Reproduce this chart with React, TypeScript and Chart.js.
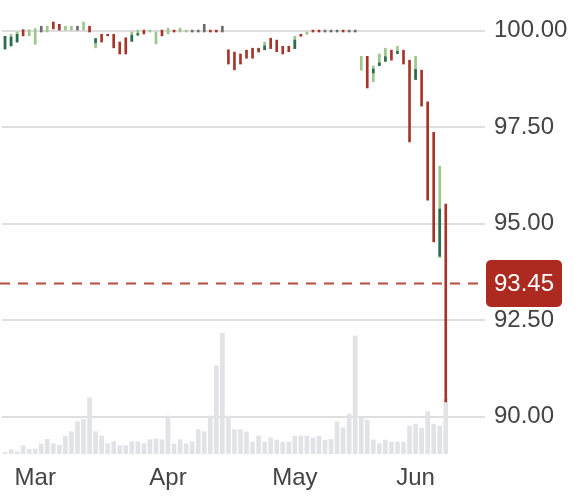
import React, { useEffect, useRef } from 'react';
import { Chart, registerables } from 'chart.js';

Chart.register(...registerables);

// ---- data ----
const SLOT_COUNT = 80; // trading-day slots on the x axis (74 filled)
const monthNames = ['Mar', 'Apr', 'May', 'Jun'];
const monthStartIndex = [5, 27, 48, 68];

const highs = [
  99.86, 99.91, 99.97, 100.03, 100.03, 100.06, 100.12, 100.12, 100.23, 100.17,
  100.12, 100.12, 100.12, 100.23, 100.12, 99.8, 99.91, 99.91, 99.91, 99.71,
  99.82, 99.97, 100.02, 100.02, 100.02, 99.97, 100.02, 100.07, 100.02, 100.07,
  100.02, 100.02, 100.02, 100.17, 100.02, 100.02, 100.12, 99.51, 99.45, 99.4,
  99.5, 99.55, 99.55, 99.71, 99.81, 99.76, 99.6, 99.6, 99.86, 99.91,
  99.97, 100.02, 100.02, 100.02, 100.02, 100.02, 100.02, 100.02, 100.02, 99.34,
  99.34, 99.09, 99.4, 99.55, 99.5, 99.6, 99.5, 99.24, 99.34, 98.98,
  98.16, 97.37, 96.49, 95.51,
];
const lows = [
  99.53, 99.61, 99.71, 99.87, 99.87, 99.65, 99.97, 99.97, 100.05, 100.02,
  100.02, 100.02, 100.02, 100.02, 99.97, 99.56, 99.71, 99.87, 99.56, 99.4,
  99.4, 99.73, 99.89, 99.92, 99.97, 99.66, 99.87, 99.92, 99.97, 99.97,
  99.97, 99.97, 99.97, 99.97, 99.97, 99.97, 99.97, 99.14, 98.99, 99.14,
  99.29, 99.29, 99.45, 99.51, 99.54, 99.46, 99.4, 99.46, 99.54, 99.86,
  99.91, 99.97, 99.97, 99.97, 99.97, 99.97, 99.97, 99.97, 99.97, 98.98,
  98.52, 98.68, 99.1, 99.21, 99.24, 99.41, 99.14, 97.12, 98.74, 98.05,
  95.61, 94.53, 94.12, 90.38,
];
// u = up, d = down, n = unchanged
const moves = [
  'u', 'u', 'u', 'd', 'u', 'u', 'n', 'u', 'd', 'd',
  'u', 'u', 'n', 'u', 'd', 'u', 'd', 'd', 'd', 'd',
  'd', 'u', 'u', 'd', 'u', 'u', 'd', 'u', 'd', 'u',
  'u', 'n', 'n', 'n', 'd', 'd', 'n', 'd', 'd', 'd',
  'd', 'd', 'd', 'u', 'd', 'd', 'd', 'd', 'u', 'd',
  'u', 'd', 'd', 'n', 'n', 'n', 'd', 'n', 'n', 'u',
  'd', 'u', 'u', 'u', 'd', 'u', 'd', 'd', 'u', 'd',
  'd', 'd', 'u', 'd',
];
const bodyIndex = [0, 1, 2, 15, 21, 22, 43, 48, 61, 62, 63, 65, 68, 72];
const bodyLow = [99.53, 99.61, 99.71, 99.69, 99.73, 99.89, 99.51, 99.54, 98.91, 99.1, 99.21, 99.41, 98.74, 94.16];
const bodyHigh = [99.86, 99.84, 99.91, 99.8, 99.89, 99.93, 99.61, 99.76, 99.01, 99.17, 99.33, 99.47, 99.0, 95.38];
const volumes = [
  17, 43, 23, 83, 47, 50, 100, 147, 103, 87,
  180, 223, 323, 347, 563, 223, 180, 103, 123, 83,
  83, 123, 123, 103, 143, 150, 143, 380, 100, 143,
  103, 123, 243, 223, 380, 883, 1207, 380, 243, 243,
  220, 120, 180, 120, 160, 140, 120, 120, 180, 180,
  180, 160, 180, 140, 147, 323, 263, 400, 1180, 360,
  340, 140, 103, 140, 120, 120, 120, 280, 300, 260,
  423, 300, 280, 553,
];
const yTicks = [90, 92.5, 95, 97.5, 100];
const lastPrice = 93.45;

// ---- styles ----
const RED = '#a5352a';
const LIGHT_GREEN = '#9cc68c';
const DARK_GREEN = '#2e6b50';
const GRAY = '#6c6c6c';
const FONT = '"Liberation Sans", Arial, sans-serif';

const priceMarker = {
  id: 'priceMarker',
  beforeDatasetsDraw(chart: any) {
    const { ctx, chartArea, scales } = chart;
    const y = scales.y.getPixelForValue(lastPrice);
    ctx.save();
    ctx.strokeStyle = '#bb4a40';
    ctx.lineWidth = 2;
    ctx.setLineDash([10, 8]);
    ctx.beginPath();
    ctx.moveTo(0, y);
    ctx.lineTo(chartArea.right, y);
    ctx.stroke();
    ctx.restore();
  },
  afterDraw(chart: any) {
    const { ctx, chartArea, scales } = chart;
    const y = scales.y.getPixelForValue(lastPrice);
    const x = chartArea.right + 1;
    const w = 76;
    const h = 47;
    ctx.save();
    ctx.fillStyle = '#ad2a20';
    ctx.beginPath();
    (ctx as any).roundRect(x, y - h / 2, w, h, 5);
    ctx.fill();
    ctx.fillStyle = '#ffffff';
    ctx.font = `24px ${FONT}`;
    ctx.textAlign = 'left';
    ctx.textBaseline = 'middle';
    ctx.fillText(lastPrice.toFixed(2), chartArea.right + 9, y + 1);
    ctx.restore();
  },
};

export default function App() {
  const ref = useRef<HTMLCanvasElement | null>(null);

  useEffect(() => {
    if (!ref.current) return;
    const labels = Array.from({ length: SLOT_COUNT }, () => '');
    monthStartIndex.forEach((idx, k) => {
      labels[idx] = monthNames[k];
    });
    const rangeData = highs.map((h, i) => [lows[i], h]);
    const rangeColors = moves.map((m) => (m === 'u' ? LIGHT_GREEN : m === 'd' ? RED : GRAY));
    const bodyData: any[] = highs.map(() => null);
    bodyIndex.forEach((idx, k) => {
      bodyData[idx] = [bodyLow[k], bodyHigh[k]];
    });

    const chart = new Chart(ref.current, {
      type: 'bar',
      data: {
        labels,
        datasets: [
          {
            label: 'body',
            data: bodyData,
            backgroundColor: DARK_GREEN,
            barThickness: 2,
            yAxisID: 'y',
            order: 1,
          } as any,
          {
            label: 'range',
            data: rangeData,
            backgroundColor: rangeColors,
            barThickness: 2,
            yAxisID: 'y',
            order: 2,
          } as any,
          {
            label: 'volume',
            data: volumes,
            backgroundColor: '#e2e3e6',
            barThickness: 4,
            yAxisID: 'yv',
            order: 3,
          } as any,
        ],
      },
      options: {
        animation: false,
        responsive: false,
        maintainAspectRatio: false,
        layout: { padding: { left: 2, top: 0, right: 0, bottom: 0 } },
        plugins: {
          legend: { display: false },
          tooltip: { enabled: false },
        },
        scales: {
          x: {
            stacked: true,
            grid: { display: false, drawTicks: false },
            border: { display: false },
            ticks: {
              autoSkip: false,
              maxRotation: 0,
              minRotation: 0,
              padding: 10,
              color: '#444444',
              font: { size: 24, family: FONT },
            },
            afterFit(scale: any) {
              scale.height = 48;
              scale.paddingLeft = 0;
              scale.paddingRight = 0;
            },
          },
          y: {
            position: 'right',
            min: 89.03,
            max: 100.8,
            grid: { color: '#dedede', lineWidth: 2, drawTicks: false },
            border: { display: false },
            afterBuildTicks(scale: any) {
              scale.ticks = yTicks.map((v) => ({ value: v }));
            },
            ticks: {
              padding: 9,
              color: '#444444',
              font: { size: 24, family: FONT },
              callback: (v: any) => Number(v).toFixed(2),
            },
            afterFit(scale: any) {
              scale.width = 99;
              scale.paddingTop = 0;
              scale.paddingBottom = 0;
            },
          },
          yv: {
            display: false,
            min: 0,
            max: 4540,
          },
        },
      } as any,
      plugins: [priceMarker],
    });
    return () => chart.destroy();
  }, []);

  return (
    <div style={{ position: 'absolute', left: 0, top: 0, width: 584, height: 502, background: '#ffffff' }}>
      <canvas ref={ref} width={584} height={502} />
    </div>
  );
}
